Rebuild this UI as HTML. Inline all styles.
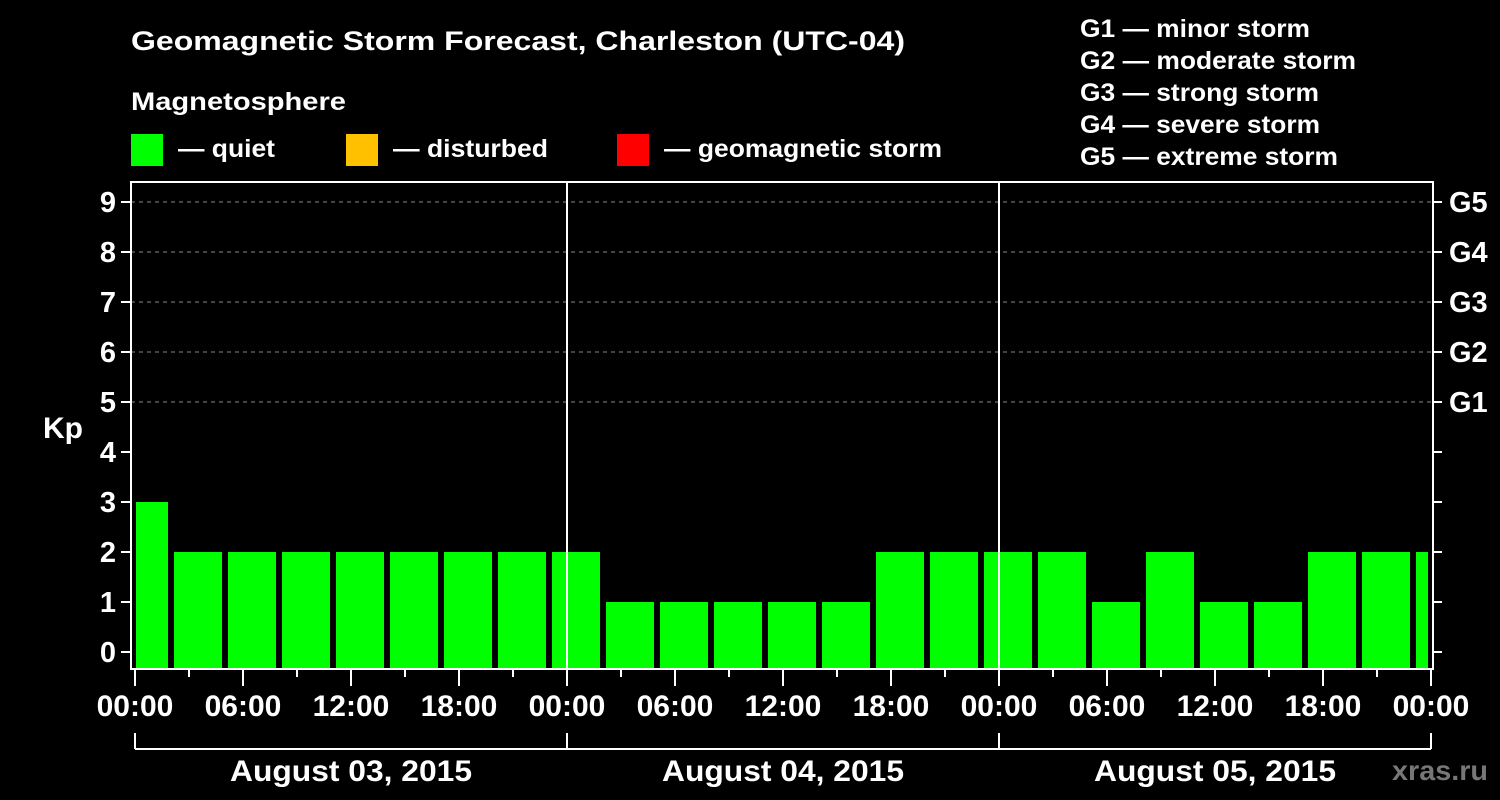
<!DOCTYPE html>
<html><head><meta charset="utf-8"><style>
html,body{margin:0;padding:0;background:#000;}
svg{display:block;font-family:"Liberation Sans",sans-serif;font-weight:bold;}
</style></head><body>
<svg id="chart" width="1500" height="800" viewBox="0 0 1500 800" xmlns="http://www.w3.org/2000/svg">
<rect x="0" y="0" width="1500" height="800" fill="#000"/>
<text x="131" y="50" fill="#fff" font-size="27" textLength="774" lengthAdjust="spacingAndGlyphs">Geomagnetic Storm Forecast, Charleston (UTC-04)</text>
<text x="131" y="110" fill="#fff" font-size="25" textLength="215" lengthAdjust="spacingAndGlyphs">Magnetosphere</text>
<g>
<rect x="131" y="134" width="32" height="32" fill="#00ff00"/>
<text x="178" y="157" fill="#fff" font-size="25" textLength="97" lengthAdjust="spacingAndGlyphs">— quiet</text></g>
<g>
<rect x="346" y="134" width="32" height="32" fill="#ffc000"/>
<text x="393" y="157" fill="#fff" font-size="25" textLength="155" lengthAdjust="spacingAndGlyphs">— disturbed</text></g>
<g>
<rect x="617" y="134" width="32" height="32" fill="#ff0000"/>
<text x="664" y="157" fill="#fff" font-size="25" textLength="278" lengthAdjust="spacingAndGlyphs">— geomagnetic storm</text></g>
<g font-size="25" fill="#fff">
<text x="1080" y="37" textLength="230" lengthAdjust="spacingAndGlyphs">G1 — minor storm</text>
<text x="1080" y="69" textLength="276" lengthAdjust="spacingAndGlyphs">G2 — moderate storm</text>
<text x="1080" y="101" textLength="239" lengthAdjust="spacingAndGlyphs">G3 — strong storm</text>
<text x="1080" y="133" textLength="240" lengthAdjust="spacingAndGlyphs">G4 — severe storm</text>
<text x="1080" y="165" textLength="258" lengthAdjust="spacingAndGlyphs">G5 — extreme storm</text>
</g>
<text x="63" y="438" fill="#fff" font-size="30" text-anchor="middle">Kp</text>
<text x="1440" y="780" fill="#777" font-size="28" text-anchor="middle" textLength="96" lengthAdjust="spacingAndGlyphs">xras.ru</text>
<g id="grid"></g><g id="bars"></g><g id="axes"></g>
</svg>
<script>
const kpValues = [3,2,2,2,2,2,2,2,2,1,1,1,1,1,2,2,2,2,1,2,1,1,2,2,2];
const kpTicks = [0,1,2,3,4,5,6,7,8,9];
const gLabels = ["G1","G2","G3","G4","G5"];
const gLevels = [5,6,7,8,9];
const hourLabels = ["00:00","06:00","12:00","18:00"];
const dayLabels = ["August 03, 2015","August 04, 2015","August 05, 2015"];
const NS="http://www.w3.org/2000/svg";
const L=131,R=1433,T=182,B=668, X0=135, DAYW=432;
const y = k => 652 - 50*k;
const x = h => X0 + h*DAYW/24;
function mk(tag, attrs, parent, txt){const e=document.createElementNS(NS,tag);for(const k in attrs)e.setAttribute(k,attrs[k]);if(txt!==undefined)e.textContent=txt;parent.appendChild(e);return e;}
const grid=document.getElementById('grid'),bars=document.getElementById('bars'),axes=document.getElementById('axes');
gLevels.forEach((g,i)=>{
  const ln=mk('line',{x1:L,x2:R,y1:y(g),y2:y(g),stroke:'#888','stroke-dasharray':'4,4','stroke-width':1},grid);
  
  
  const t=mk('text',{x:1449,y:y(g)+10,fill:'#fff','font-size':29},axes,gLabels[i]);
  
  
});
kpValues.forEach((v,i)=>{
  const c=144+i*3*DAYW/24;
  let x1=Math.max(c-24,136), x2=Math.min(c+24,1428);
  const r=mk('rect',{x:x1,y:y(v),width:x2-x1,height:B-y(v),fill:'#00ff00'},bars);
  
  
});
const fr=mk('rect',{x:L,y:T,width:R-L,height:669-T,fill:'none',stroke:'#fff','stroke-width':2},axes);


[1,2].forEach(d=>{
  const l=mk('line',{x1:x(24*d),x2:x(24*d),y1:T,y2:669,stroke:'#fff','stroke-width':2},axes);
  
  
});
kpTicks.forEach(k=>{
  const t=mk('line',{x1:121,x2:L,y1:y(k),y2:y(k),stroke:'#fff','stroke-width':2},axes);
  
  
  const t2=mk('line',{x1:R,x2:1442,y1:y(k),y2:y(k),stroke:'#fff','stroke-width':2},axes);
  
  
  const lb=mk('text',{x:116,y:y(k)+10,fill:'#fff','font-size':29,'text-anchor':'end'},axes,String(k));
  
  
});
for(let h=0;h<=72;h+=3){
  const major=h%6===0;
  const t=mk('line',{x1:x(h),x2:x(h),y1:669,y2:major?686:677,stroke:'#fff','stroke-width':2},axes);
  
  
  if(major){
    const lb=mk('text',{x:x(h),y:716,fill:'#fff','font-size':30,'text-anchor':'middle'},axes,hourLabels[(h/6)%4]);
    
    
  }
}
const br=mk('line',{x1:x(0),x2:x(72),y1:749,y2:749,stroke:'#fff','stroke-width':2},axes);


for(let d=0;d<=3;d++){
  const t=mk('line',{x1:x(24*d),x2:x(24*d),y1:733,y2:749,stroke:'#fff','stroke-width':2},axes);
  
  
}
dayLabels.forEach((s,d)=>{
  const t=mk('text',{x:x(24*d+12),y:781,fill:'#fff','font-size':30,'text-anchor':'middle',textLength:242,lengthAdjust:'spacingAndGlyphs'},axes,s);
  
  
});
</script>
</body></html>
